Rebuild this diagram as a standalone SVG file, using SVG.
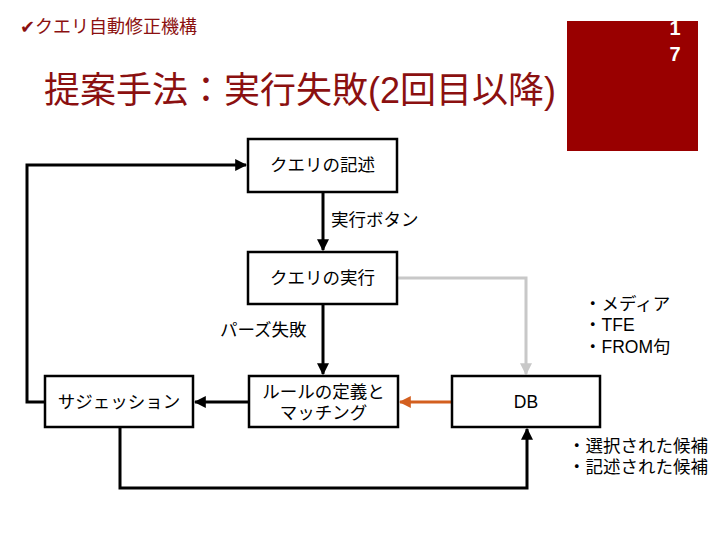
<svg xmlns="http://www.w3.org/2000/svg" width="720" height="540" viewBox="0 0 720 540">
<style>
.box{fill:#fff;stroke:#000;stroke-width:2.5}
.t{font-family:"Liberation Sans","Noto Sans CJK JP",sans-serif;font-size:17.5px;fill:#000}
.c{text-anchor:middle}
.ln{fill:none;stroke:#000;stroke-width:3}
</style>
<defs>
<marker id="ab" viewBox="0 0 10 10" refX="9" refY="5" markerWidth="4" markerHeight="4" orient="auto" markerUnits="strokeWidth"><path d="M0,0 L10,5 L0,10 z" fill="#000"/></marker>
<marker id="ag" viewBox="0 0 10 10" refX="9" refY="5" markerWidth="4" markerHeight="4" orient="auto" markerUnits="strokeWidth"><path d="M0,0 L10,5 L0,10 z" fill="#c8c8c8"/></marker>
<marker id="ao" viewBox="0 0 10 10" refX="9" refY="5" markerWidth="4" markerHeight="4" orient="auto" markerUnits="strokeWidth"><path d="M0,0 L10,5 L0,10 z" fill="#d35f1f"/></marker>
</defs>
<rect x="567" y="21" width="131" height="130" fill="#990000"/>
<text x="675" y="35" font-family="Liberation Sans,sans-serif" font-size="20" font-weight="bold" fill="#fff" text-anchor="middle">1</text>
<text x="675" y="61" font-family="Liberation Sans,sans-serif" font-size="20" font-weight="bold" fill="#fff" text-anchor="middle">7</text>
<text x="20" y="33" font-family="'DejaVu Sans','Noto Sans CJK JP',sans-serif" font-size="18" fill="#8b1010">✔<tspan font-family="'Noto Sans CJK JP',sans-serif">クエリ自動修正機構</tspan></text>
<text x="44" y="103" font-family="'Liberation Sans','Noto Sans CJK JP',sans-serif" font-size="36" fill="#8b1010">提案手法：実行失敗(2回目以降)</text>
<g id="connectors">
<path class="ln" d="M323,192 V250" marker-end="url(#ab)"/>
<path class="ln" d="M323,304 V374" marker-end="url(#ab)"/>
<path class="ln" d="M249,402 H195" marker-end="url(#ab)"/>
<path class="ln" d="M45,402 H27 V165 H246" marker-end="url(#ab)"/>
<path fill="none" stroke="#c8c8c8" stroke-width="3" d="M397,278 H526 V374" marker-end="url(#ag)"/>
<path fill="none" stroke="#d35f1f" stroke-width="3" d="M452,402 H400" marker-end="url(#ao)"/>
<path class="ln" d="M120,427 V488 H527 V429" marker-end="url(#ab)"/>
<text class="t" x="331" y="226">実行ボタン</text>
<text class="t" x="220" y="336">パーズ失敗</text>
</g>
<g id="n1"><rect class="box" x="248" y="139" width="149" height="53"/><text class="t c" x="322.5" y="171" font-size="18">クエリの記述</text></g>
<g id="n2"><rect class="box" x="248" y="252" width="149" height="52"/><text class="t c" x="322.5" y="284" font-size="18">クエリの実行</text></g>
<g id="n3"><rect class="box" x="45" y="376" width="148" height="51"/><text class="t c" x="119" y="408" font-size="18">サジェッション</text></g>
<g id="n4"><rect class="box" x="249" y="376" width="149" height="51"/><text class="t c" x="323.5" y="398" font-size="18">ルールの定義と</text><text class="t c" x="323.5" y="419" font-size="18">マッチング</text></g>
<g id="n5"><rect class="box" x="452" y="376" width="148" height="51"/><text class="t c" x="526" y="408">DB</text></g>
<g id="notes">
<text class="t" x="584" y="310" font-size="16.5">・メディア</text>
<text class="t" x="584" y="331" font-size="16.5">・TFE</text>
<text class="t" x="584" y="353" font-size="16.5">・FROM句</text>
<text class="t" x="568" y="452">・選択された候補</text>
<text class="t" x="568" y="473">・記述された候補</text>
</g>
</svg>
